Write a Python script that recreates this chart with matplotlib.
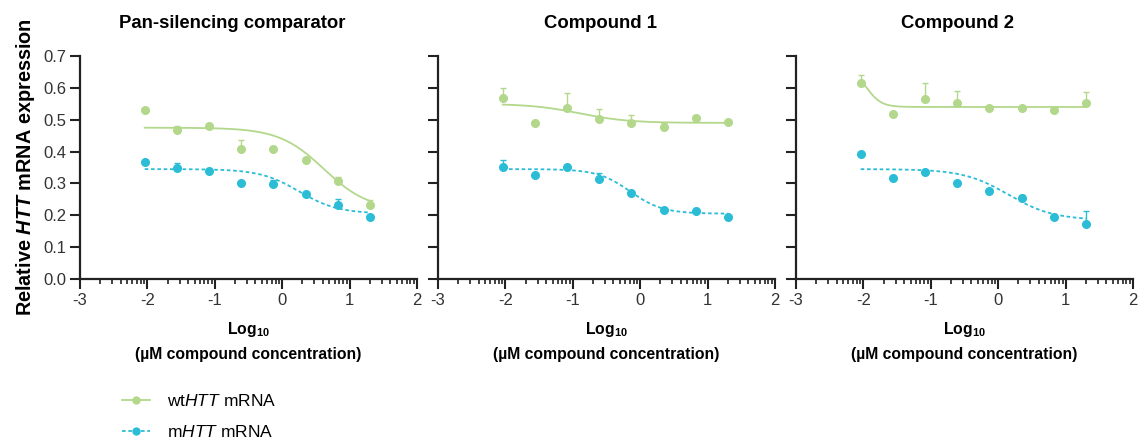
import numpy as np
import matplotlib
matplotlib.use("Agg")
import matplotlib.pyplot as plt
from matplotlib.lines import Line2D
from matplotlib.ticker import FixedLocator, MultipleLocator, FormatStrFormatter

plt.rcParams['font.family'] = ['Liberation Sans', 'DejaVu Sans']
plt.rcParams['axes.unicode_minus'] = False
plt.rcParams['mathtext.fontset'] = 'custom'
plt.rcParams['mathtext.rm'] = 'Liberation Sans'
plt.rcParams['mathtext.it'] = 'Liberation Sans:italic'
plt.rcParams['mathtext.bf'] = 'Liberation Sans:bold'
plt.rcParams['mathtext.bfit'] = 'Liberation Sans:bold:italic'

# log10 of concentration (uM), 3-fold dilutions from 20 uM
log_conc = [-2.04, -1.56, -1.085, -0.607, -0.13, 0.347, 0.824, 1.301]

titles = ["Pan-silencing comparator", "Compound 1", "Compound 2"]

wt_mean = [
    [0.529, 0.468, 0.479, 0.408, 0.408, 0.374, 0.309, 0.233],
    [0.567, 0.491, 0.536, 0.503, 0.491, 0.476, 0.505, 0.494],
    [0.614, 0.518, 0.564, 0.552, 0.538, 0.538, 0.531, 0.554],
]
wt_err = [
    [0.0, 0.013, 0.0, 0.027, 0.0, 0.0, 0.011, 0.016],
    [0.033, 0.0, 0.049, 0.030, 0.024, 0.013, 0.008, 0.0],
    [0.026, 0.0, 0.050, 0.039, 0.0, 0.0, 0.0, 0.032],
]
m_mean = [
    [0.366, 0.350, 0.340, 0.301, 0.299, 0.268, 0.233, 0.196],
    [0.351, 0.327, 0.351, 0.315, 0.270, 0.217, 0.212, 0.194],
    [0.393, 0.317, 0.335, 0.301, 0.275, 0.254, 0.196, 0.173],
]
m_err = [
    [0.0, 0.014, 0.0, 0.0, 0.012, 0.0, 0.018, 0.0],
    [0.021, 0.0, 0.0, 0.017, 0.0, 0.0, 0.0, 0.0],
    [0.0, 0.0, 0.0, 0.0, 0.0, 0.010, 0.0, 0.042],
]

# fitted 4PL parameters (top, bottom, logIC50, hill)
wt_fit = [(0.475, 0.215, 0.62, 1.3), (0.55, 0.49, -0.9, 1.2), (0.66, 0.54, -1.95, 4.0)]
m_fit = [(0.345, 0.205, 0.25, 1.5), (0.345, 0.205, -0.15, 1.8), (0.345, 0.185, 0.15, 1.3)]

wt_color = "#b3d88c"
m_color = "#2bbdd6"
m_dash = (0, (2, 1.5))


def four_pl(x, top, bottom, logic50, hill):
    return bottom + (top - bottom) / (1 + 10 ** ((x - logic50) * hill))


fig = plt.figure(figsize=(11.41, 4.47), dpi=100)
lefts = [80 / 1141, 438 / 1141, 796 / 1141]
title_x = [0.452, 0.481, 0.478]
axes = [fig.add_axes([l, 1 - 279 / 447, 337 / 1141, 223 / 447]) for l in lefts]

minor = [d + np.log10(k) for d in range(-3, 2) for k in range(2, 10)]
xs = np.linspace(log_conc[0], log_conc[-1], 200)

for i, ax in enumerate(axes):
    ax.plot(xs, four_pl(xs, *wt_fit[i]), color=wt_color, lw=1.3, zorder=2)
    ax.plot(xs, four_pl(xs, *m_fit[i]), color=m_color, lw=1.3, ls=m_dash, zorder=2)
    ax.errorbar(log_conc, wt_mean[i], yerr=[np.zeros(8), wt_err[i]], fmt='o', ms=5.5,
                color=wt_color, ecolor=wt_color, elinewidth=1, capsize=2.5, zorder=3)
    ax.errorbar(log_conc, m_mean[i], yerr=[np.zeros(8), m_err[i]], fmt='o', ms=5.5,
                color=m_color, ecolor=m_color, elinewidth=1, capsize=2.5, zorder=3)

    ax.set_xlim(-3, 2)
    ax.set_ylim(0, 0.7)
    ax.xaxis.set_major_locator(FixedLocator(range(-3, 3)))
    ax.xaxis.set_minor_locator(FixedLocator(minor))
    ax.yaxis.set_major_locator(MultipleLocator(0.1))
    for s in ["top", "right"]:
        ax.spines[s].set_visible(False)
    for s in ["left", "bottom"]:
        ax.spines[s].set_linewidth(1.6)
        ax.spines[s].set_color("#222222")
    ax.tick_params(which='major', length=7, width=1.5, color="#222222",
                   labelsize=12, labelcolor="#333333", pad=3)
    ax.tick_params(which='minor', length=3.5, width=1.2, color="#222222")
    ax.set_title(titles[i], fontsize=13.3, fontweight='bold', pad=20, x=title_x[i])
    ax.set_xlabel("Log$_{\\mathbf{10}}$\n(\u00b5M compound concentration)",
                  fontsize=11.3, fontweight='bold', linespacing=1.6, labelpad=9)
    if i == 0:
        ax.yaxis.set_major_formatter(FormatStrFormatter('%.1f'))
        ax.set_ylabel(r"Relative $\bfit{HTT}$ mRNA expression", fontsize=14.3,
                      fontweight='bold', labelpad=4)
    else:
        ax.set_yticklabels([])

handles = [
    Line2D([], [], color=wt_color, lw=1.3, marker='o', ms=5),
    Line2D([], [], color=m_color, lw=1.3, ls=m_dash, marker='o', ms=5),
]
labels = [r"wt$\it{HTT}$ mRNA", r"m$\it{HTT}$ mRNA"]
fig.legend(handles, labels, loc='lower left', bbox_to_anchor=(0.093, -0.02),
           frameon=False, fontsize=12.5, handlelength=1.6, labelspacing=0.9,
           handletextpad=1.0)

fig.savefig("out.png", dpi=100)
